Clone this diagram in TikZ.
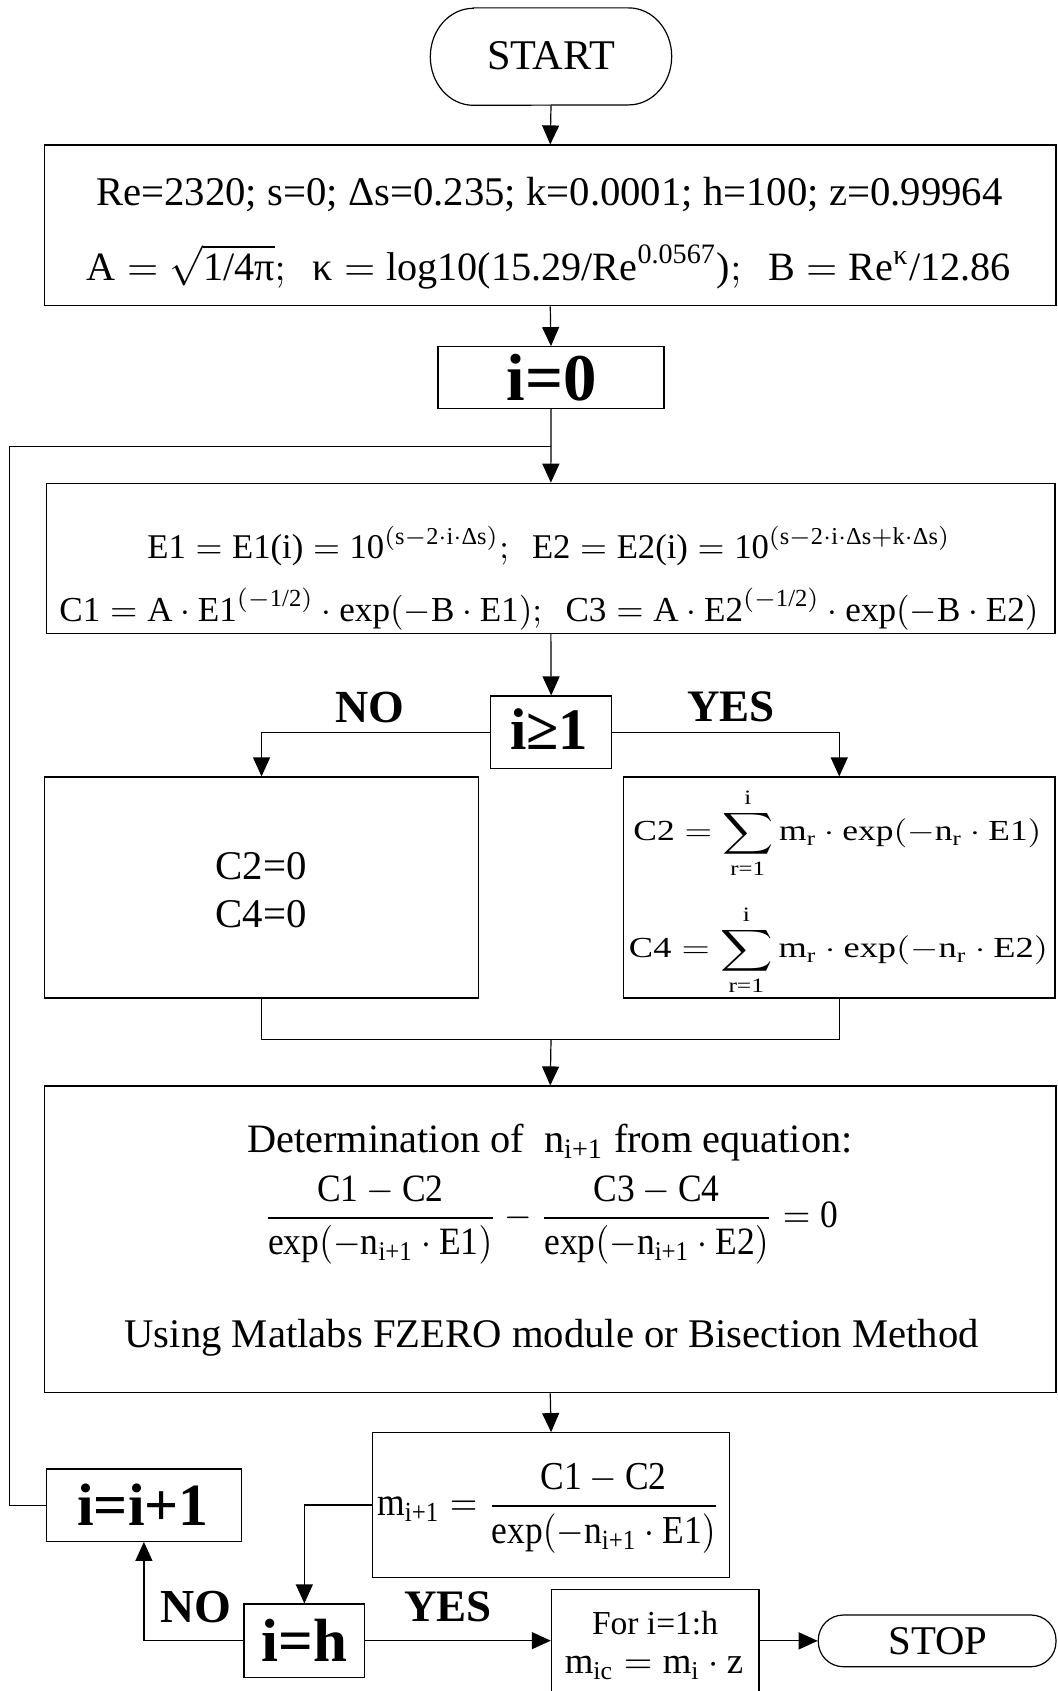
\documentclass[tikz,border=0pt]{standalone}
\usepackage{amsmath}
\usepackage{graphicx}
\usepackage{fontspec}
\setmainfont{Liberation Serif}
\usetikzlibrary{arrows.meta}
\newcommand\tx[1]{\text{#1}}
\newcommand\fitw[2]{\resizebox{#1pt}{!}{#2}}
\newcommand\fitwh[3]{\resizebox*{#1pt}{#2pt}{#3}}
\tikzset{
  ln/.style={line width=1.2pt},
  arr/.style={ln,-{Triangle[width=17pt,length=19pt]}},
  box/.style 2 args={draw,ln,rectangle,inner sep=0pt,minimum width=#1pt,minimum height=#2pt},
  txt/.style={inner sep=0pt}
}
\begin{document}
\begin{tikzpicture}[x=1pt,y=-1pt]
\useasboundingbox (0,0) rectangle (1057,1691);
% START
\node[inner sep=0pt,minimum width=241pt,minimum height=97pt] (start) at (551,56.6) {};
\draw[ln] ([xshift=43pt]start.north west) -- ([xshift=-43pt]start.north east)
  arc[start angle=90,end angle=-90,x radius=43pt,y radius=48.5pt]
  -- ([xshift=43pt]start.south west)
  arc[start angle=270,end angle=90,x radius=43pt,y radius=48.5pt] -- cycle;
\node[txt] (tstart) at (551,56) {\fitw{128}{START}};
% box 1
\node[box={1011.5}{160.7}] (b1) at (550.25,225.35) {};
\node[txt] (t1a) at (549.4,195) {\fitw{906}{Re=2320; s=0; Δs=0.235; k=0.0001; h=100; z=0.99964}};
\node[txt] (t1b) at (549,267) {\fitw{924}{$\tx{A}=\sqrt{\tx{1/4π}};\ \ \tx{κ}=\tx{log10(15.29/Re}^{\tx{0.0567}}\tx{)};\ \ \tx{B}=\tx{Re}^{\tx{κ}}\tx{/12.86}$}};
% i=0
\node[box={226}{61.6}] (i0) at (551,377.5) {};
\node[txt] (ti0) at (551.8,377.5) {\fitw{90}{\textbf{i=0}}};
% box 2
\node[box={1008.3}{150.2}] (b2) at (550.85,558.4) {};
\node[txt] (t2a) at (549,546) {\fitw{803}{$\tx{E1}=\tx{E1(i)}=\tx{10}^{(\tx{s}-\tx{2}\cdot\tx{i}\cdot\tx{Δs})};\ \ \tx{E2}=\tx{E2(i)}=\tx{10}^{(\tx{s}-\tx{2}\cdot\tx{i}\cdot\tx{Δs}+\tx{k}\cdot\tx{Δs})}$}};
\node[txt] (t2b) at (549,609) {\fitw{979}{$\tx{C1}=\tx{A}\cdot\tx{E1}^{(-\tx{1/2})}\cdot\tx{exp}(-\tx{B}\cdot\tx{E1});\ \ \tx{C3}=\tx{A}\cdot\tx{E2}^{(-\tx{1/2})}\cdot\tx{exp}(-\tx{B}\cdot\tx{E2})$}};
% decision i>=1
\node[box={121}{72.3}] (d1) at (551.2,732.15) {};
\node[txt] (td1) at (549,729) {\fitw{78}{\textbf{i≥1}}};
\node[txt] (no1) at (369.6,707) {\fitw{69}{\textbf{NO}}};
\node[txt] (yes1) at (731,707) {\fitw{87.6}{\textbf{YES}}};
% left / right boxes
\node[box={434.1}{221}] (bl) at (261.55,887.5) {};
\node[txt] (tc20) at (261,866) {\fitw{91}{C2=0}};
\node[txt] (tc40) at (261,913.7) {\fitw{91}{C4=0}};
\node[box={431.5}{221}] (br) at (839.25,887.5) {};
\node[txt] (tc2) at (837.5,833) {\fitwh{408}{90}{$\displaystyle\tx{C2}=\sum_{\tx{r=1}}^{\tx{i}}\tx{m}_{\tx{r}}\cdot\tx{exp}(-\tx{n}_{\tx{r}}\cdot\tx{E1})$}};
\node[txt] (tc4) at (838.5,950) {\fitwh{419}{90}{$\displaystyle\tx{C4}=\sum_{\tx{r=1}}^{\tx{i}}\tx{m}_{\tx{r}}\cdot\tx{exp}(-\tx{n}_{\tx{r}}\cdot\tx{E2})$}};
% box 3
\coordinate (mrg) at (551,1039.3);
\node[box={1011.5}{306.7}] (b3) at (550.25,1239.35) {};
\node[txt] (t3a) at (550,1143) {\fitw{605}{Determination of \ n\textsubscript{i+1} from equation:}};
\node[txt] (t3b) at (551,1220) {\fitwh{574}{88}{$\displaystyle\frac{\tx{C1}-\tx{C2}}{\tx{exp}(-\tx{n}_{\tx{i+1}}\cdot\tx{E1})}-\frac{\tx{C3}-\tx{C4}}{\tx{exp}(-\tx{n}_{\tx{i+1}}\cdot\tx{E2})}=\tx{0}$}};
\node[txt] (t3c) at (551.7,1338) {\fitw{854}{Using Matlabs FZERO module or Bisection Method}};
% m box
\node[box={356.6}{144.6}] (mb) at (551.1,1505) {};
\node[txt] (tmb) at (548.7,1508) {\fitwh{342.5}{90}{$\displaystyle\tx{m}_{\tx{i+1}}=\frac{\tx{C1}-\tx{C2}}{\tx{exp}(-\tx{n}_{\tx{i+1}}\cdot\tx{E1})}$}};
% i=i+1
\node[box={194.8}{72.3}] (inc) at (143.9,1505.15) {};
\node[txt] (tinc) at (143,1505) {\fitw{131.5}{\textbf{i=i+1}}};
% i=h
\node[box={120.7}{73.3}] (ih) at (304.35,1640.65) {};
\node[txt] (tih) at (304.5,1640) {\fitw{85.6}{\textbf{i=h}}};
\node[txt] (no2) at (195.8,1606.7) {\fitw{71}{\textbf{NO}}};
\node[txt] (yes2) at (448,1606.7) {\fitw{87.6}{\textbf{YES}}};
% For box
\node[box={207.6}{110.7}] (fb) at (655.2,1644.65) {};
\node[txt] (tfor) at (655,1623) {\fitw{126}{For i=1:h}};
\node[txt] (tmic) at (654,1668) {\fitw{178.5}{$\tx{m}_{\tx{ic}}=\tx{m}_{\tx{i}}\cdot\tx{z}$}};
% STOP
\node[draw,ln,rounded corners=25pt,inner sep=0pt,minimum width=237.7pt,minimum height=51.7pt] (stop) at (937.15,1640.85) {};
\node[txt] (tstop) at (938,1641) {\fitw{99}{STOP}};
% connectors
\draw[arr] (start.south) -- (b1.north);
\draw[arr] (b1.south) -- (i0.north);
\draw[arr] (i0.south) -- (b2.north);
\coordinate (lp) at (9.3,446.7);
\draw[ln] (inc.west) -| (lp) -- (lp -| i0.south);
\draw[arr] (b2.south) -- (d1.north);
\draw[arr] (d1.west) -| (bl.north);
\draw[arr] (d1.east) -| (br.north);
\draw[ln] (bl.south) -- (bl.south |- mrg) -- (br.south |- mrg) -- (br.south);
\draw[arr] (mrg) -- (b3.north);
\draw[arr] (b3.south) -- (mb.north);
\draw[arr] (mb.west) -| (ih.north);
\draw[arr] (ih.west) -| (inc.south);
\draw[arr] (ih.east) -- (ih.east -| fb.west);
\draw[arr] (fb.east |- stop.west) -- (stop.west);
\end{tikzpicture}
\end{document}
